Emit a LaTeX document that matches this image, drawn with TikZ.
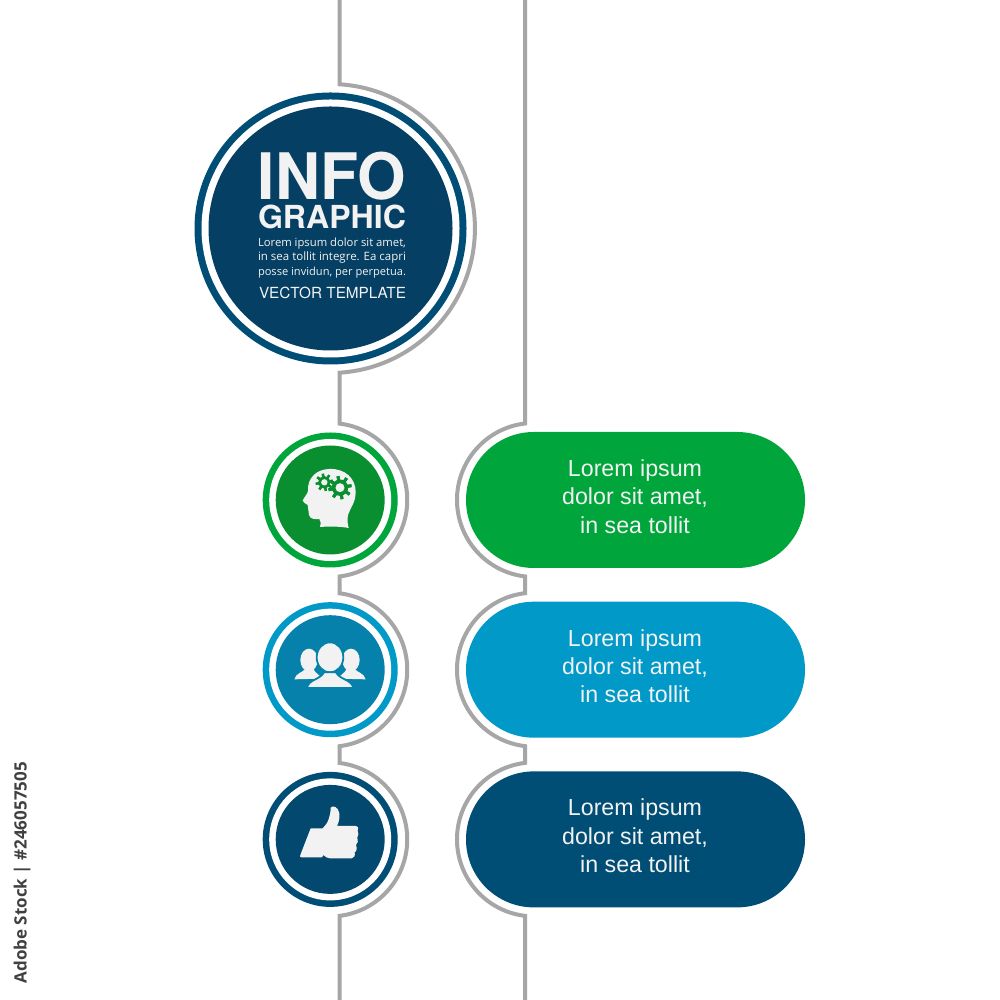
\documentclass[tikz,border=0pt]{standalone}
\usepackage{fontspec}
\setmainfont{Liberation Sans}
\newfontfamily\heros{TeX Gyre Heros}
\newfontfamily\body{Open Sans}
\newfontfamily\idfont{Open Sans}
\definecolor{wire}{HTML}{A6A6A6}
\definecolor{ink}{HTML}{F2F2F2}
\definecolor{gr}{HTML}{00A63C}
\definecolor{grd}{HTML}{0A8F30}
\definecolor{bl}{HTML}{0099C8}
\definecolor{bld}{HTML}{0581AB}
\definecolor{nv}{HTML}{004E75}
\definecolor{nvd}{HTML}{053F63}
\definecolor{nvm}{HTML}{03486E}
\tikzset{
  wireline/.style={draw=wire,line width=4pt,line join=miter},
  pill/.style={rounded corners=67.9pt,draw=none},
  pilltext/.style={text=ink,align=center,font=\fontsize{23.2}{28.4}\selectfont},
}
\newcommand{\badge}[4]{%
  \fill[#3] (#1,#2) circle (67.5);
  \fill[white] (#1,#2) circle (61);
  \fill[#4] (#1,#2) circle (54.5);
}
\begin{document}
\begin{tikzpicture}[x=1pt,y=1pt]
\useasboundingbox (0,0) rectangle (1000,1000);
\fill[white] (0,0) rectangle (1000,1000);
% left wire
\draw[wireline] (339.5,1002) -- (339.5,915.7) arc (86.4:-86.4:144.5)
  -- (339.5,576.4) arc (83.1:-83.1:77)
  -- (339.5,406.7) arc (83.1:-83.1:77)
  -- (339.5,237) arc (83.1:-83.1:77)
  -- (339.5,-2);
% right wire
\draw[wireline] (525,1002) -- (525,576.5) arc (96.7:263.3:77)
  -- (525,406.8) arc (96.7:263.3:77)
  -- (525,237.1) arc (96.7:263.3:77)
  -- (525,-2);
% main badge
\fill[nv] (330.5,771.5) circle (136);
\fill[white] (330.5,771.5) circle (129);
\fill[nvd] (330.5,771.5) circle (122);
\node[inner sep=0,text=ink] (info) at (332,823.5) {\resizebox{148pt}{47.5pt}{\heros\bfseries\fontsize{66}{66}\selectfont INFO}};
\node[inner sep=0,text=ink] (graphic) at (332,783.2) {\resizebox{148pt}{23.5pt}{\heros\bfseries\fontsize{31}{31}\selectfont GRAPHIC}};
\node[inner sep=0,text=ink] (l1) at (332,756.5) {\resizebox{148pt}{!}{\body\fontsize{12}{12}\selectfont Lorem ipsum dolor sit amet,}};
\node[inner sep=0,text=ink] (l2) at (332,742) {\resizebox{148pt}{!}{\body\fontsize{12}{12}\selectfont in sea tollit integre. Ea capri}};
\node[inner sep=0,text=ink] (l3) at (332,727.5) {\resizebox{148pt}{!}{\body\fontsize{12}{12}\selectfont posse invidun, per perpetua.}};
\node[inner sep=0,text=ink] (vt) at (332.5,707) {\resizebox{147pt}{!}{\heros\fontsize{16}{16}\selectfont VECTOR TEMPLATE}};
% small badges
\badge{330.2}{500}{gr}{grd}
\badge{330.2}{330.3}{bl}{bld}
\badge{330.2}{160.6}{nv}{nvm}
% pills
\fill[pill,fill=gr] (466,432) rectangle (805,568);
\fill[pill,fill=bl] (466,262.3) rectangle (805,398.3);
\fill[pill,fill=nv] (466,92.6) rectangle (805,228.6);
\node[pilltext] (t1) at (635,503.5) {Lorem ipsum\\dolor sit amet,\\in sea tollit};
\node[pilltext] (t2) at (635,333.8) {Lorem ipsum\\dolor sit amet,\\in sea tollit};
\node[pilltext] (t3) at (635,164.1) {Lorem ipsum\\dolor sit amet,\\in sea tollit};
% head icon
\begin{scope}[shift={(290,540)},x=0.3333pt,y=-0.3333pt]
\fill[ink] (118,27) .. controls (165,25) and (198,55) .. (197,98)
  .. controls (196,130) and (180,145) .. (174,165)
  .. controls (172,178) and (172,190) .. (176,204)
  .. controls (150,199) and (115,199) .. (90,201)
  .. controls (93,190) and (92,182) .. (88,177)
  .. controls (75,178) and (60,178) .. (57,165)
  .. controls (55,155) and (55,145) .. (53,135)
  .. controls (48,130) and (38,128) .. (38,122)
  .. controls (42,112) and (53,102) .. (54,92)
  .. controls (52,55) and (78,28) .. (118,27) -- cycle;
\foreach \cx/\cy/\r/\w/\tw/\tl in {103/67/14/9/7/26,150/83/19/11/9/35}{
  \draw[grd,line width=\w*0.3333pt] (\cx,\cy) circle (\r);
  \foreach \k in {1,...,8}{
    \fill[grd,shift={(\cx,\cy)},rotate=\k*45+10] (-\tw/2,-\tl) rectangle (\tw/2,\tl);
  }
  \fill[ink] (\cx,\cy) circle (\r-\w/2);
}
\end{scope}
% people icon
\begin{scope}[shift={(285,370)},x=0.3333pt,y=-0.3333pt]
\foreach \sx/\dx in {1/0,-1/270}{
\begin{scope}[shift={(\dx,0)},xscale=\sx]
\fill[ink] (72,90) ellipse (26 and 34);
\fill[ink] (28,148) .. controls (32,130) and (52,128) .. (62,116)
  -- (85,116) .. controls (90,130) and (105,135) .. (112,146) -- cycle;
\end{scope}}
\fill[ink,draw=bld,line width=1.8pt] (135,82) ellipse (40 and 45);
\fill[ink,draw=bld,line width=1.8pt] (66,174) .. controls (70,148) and (105,150) .. (117,127)
  -- (153,127) .. controls (165,150) and (200,148) .. (205,174) -- cycle;
\end{scope}
% thumb icon
\begin{scope}[shift={(290,205)},x=0.3333pt,y=-0.3333pt]
\fill[ink] (62,100) -- (98,100) .. controls (115,85) and (122,60) .. (122,38)
  .. controls (128,30) and (145,35) .. (148,55)
  .. controls (150,70) and (146,82) .. (141,93)
  -- (197,93) .. controls (206,95) and (206,100) .. (203,108)
  .. controls (206,114) and (206,120) .. (202,128)
  .. controls (205,136) and (204,146) .. (198,150)
  .. controls (202,160) and (200,170) .. (194,172)
  .. controls (196,182) and (192,190) .. (185,190)
  -- (120,190) .. controls (112,190) and (106,186) .. (100,180) -- (96,187) -- (34,187)
  .. controls (30,187) and (29,183) .. (31,180) -- cycle;
\end{scope}
% stock id
\node[inner sep=0,rotate=90,anchor=east,text=black!75] (id) at (22,238) {\resizebox{221pt}{!}{\idfont\bfseries\fontsize{15}{15}\selectfont Adobe Stock | \#246057505}};
\end{tikzpicture}
\end{document}
